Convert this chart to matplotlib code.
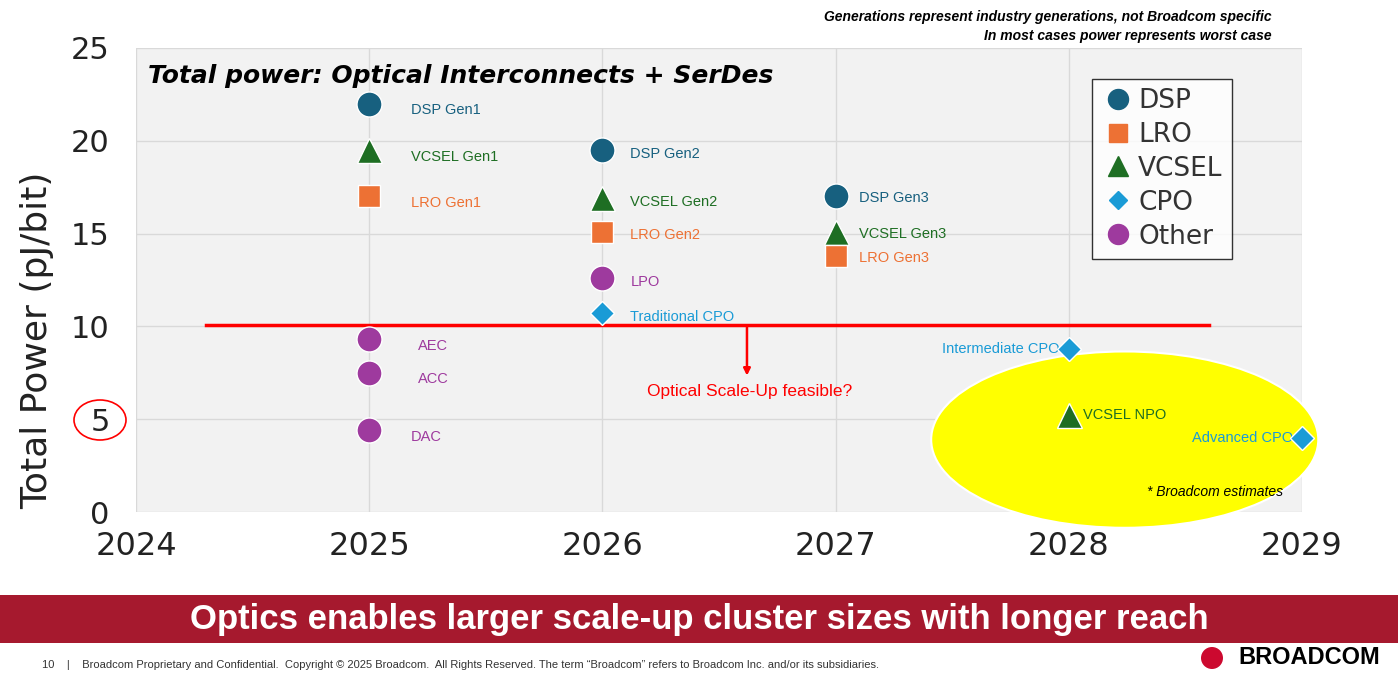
import matplotlib
matplotlib.use("Agg")
import matplotlib.pyplot as plt
from matplotlib.patches import Ellipse, Rectangle
from matplotlib.lines import Line2D

# ---- data ----
point_names = ["DSP Gen1", "VCSEL Gen1", "LRO Gen1", "AEC", "ACC", "DAC",
               "DSP Gen2", "VCSEL Gen2", "LRO Gen2", "LPO", "Traditional CPO",
               "DSP Gen3", "VCSEL Gen3", "LRO Gen3",
               "Intermediate CPO", "VCSEL NPO", "Advanced CPO"]
point_years = [2025, 2025, 2025, 2025, 2025, 2025,
               2026, 2026, 2026, 2026, 2026,
               2027, 2027, 2027,
               2028, 2028, 2029]
point_power = [22.0, 19.5, 17.0, 9.3, 7.5, 4.4,
               19.5, 16.9, 15.1, 12.6, 10.7,
               17.0, 15.1, 13.8,
               8.8, 5.2, 4.0]
point_kind = ["DSP", "VCSEL", "LRO", "Other", "Other", "Other",
              "DSP", "VCSEL", "LRO", "Other", "CPO",
              "DSP", "VCSEL", "LRO",
              "CPO", "VCSEL", "CPO"]
kinds = ["DSP", "LRO", "VCSEL", "CPO", "Other"]
threshold = 10.1

styles = {
    "DSP": ("o", "#17607f", 18),
    "LRO": ("s", "#ed7134", 16),
    "VCSEL": ("^", "#1e6e23", 18),
    "CPO": ("D", "#1a9bd6", 12),
    "Other": ("o", "#9e3a9e", 18),
}
# label offsets (layout only)
label_dx = {2025: 0.18, 2026: 0.12, 2027: 0.10}
label_dy = {2025: -0.35, 2026: -0.2, 2027: -0.1}

fig = plt.figure(figsize=(13.98, 6.77), dpi=100)
ax = fig.add_axes([0.0973, 0.2437, 0.834, 0.6854])
ax.set_facecolor("#f2f2f2")
ax.set_xlim(2024, 2029)
ax.set_ylim(0, 25)
ax.set_xticks(range(2024, 2030))
ax.set_yticks(range(0, 26, 5))
ax.grid(True, color="#d9d9d9", lw=1)
ax.set_axisbelow(True)
for s in ax.spines.values():
    s.set_visible(False)
ax.tick_params(axis="x", length=0, labelsize=23, pad=14, labelcolor="#222222")
ax.tick_params(axis="y", length=0, labelsize=22, pad=19, labelcolor="#222222")
ax.set_ylabel("Total Power (pJ/bit)", fontsize=26, color="#222222")
ax.yaxis.set_label_coords(-0.07, 0.37)

ax.add_patch(Ellipse((2028.24, 3.9), 1.66, 9.5, facecolor="#ffff00",
                     edgecolor="white", lw=1.5, zorder=1, clip_on=False))

for name, x, y, k in zip(point_names, point_years, point_power, point_kind):
    m, c, ms = styles[k]
    ax.plot(x, y, marker=m, color=c, ms=ms, mec="white", mew=1, ls="none",
            zorder=4, clip_on=False)
    if name in ("Intermediate CPO", "Advanced CPO"):
        ax.text(x - 0.04, y, name, color=c, fontsize=10.5, ha="right", va="center",
                family="Liberation Sans")
    elif name == "VCSEL NPO":
        ax.text(x + 0.06, y, name, color=c, fontsize=10.5, va="center",
                family="Liberation Sans")
    else:
        dx = label_dx[x] + (0.03 if name in ("AEC", "ACC") else 0)
        ax.text(x + dx, y + label_dy[x], name, color=c, fontsize=10.5, va="center",
                family="Liberation Sans")

ax.plot([2024.3, 2028.6], [threshold, threshold], color="red", lw=2.5, zorder=3)
ax.annotate("", xy=(2026.62, 7.2), xytext=(2026.62, threshold),
            arrowprops=dict(arrowstyle="-|>", color="red", lw=1.8, mutation_scale=10))
ax.text(2026.63, 6.5, "Optical Scale-Up feasible?", color="red", fontsize=12.5,
        ha="center", va="center", family="Liberation Sans")
ax.text(2028.92, 1.1, "* Broadcom estimates", fontsize=10, style="italic",
        ha="right", va="center", family="Liberation Sans")

ax.text(0.01, 0.965, "Total power: Optical Interconnects + SerDes", transform=ax.transAxes,
        fontsize=18, weight="bold", style="italic", va="top")

handles = [Line2D([], [], marker=styles[k][0], color=styles[k][1], ls="none",
                  ms=styles[k][2] * 0.8) for k in kinds]
leg = ax.legend(handles, kinds, loc="upper left", bbox_to_anchor=(0.82, 0.934),
                fontsize=19, frameon=True, fancybox=False, edgecolor="black",
                facecolor="white", handletextpad=0.1, labelspacing=0.3,
                borderpad=0.35, handlelength=1.3, borderaxespad=0)
leg.get_frame().set_linewidth(1)
for t in leg.get_texts():
    t.set_color("#333333")

# circled "5"
fig.patches.append(Ellipse((100 / 1398, 1 - 420 / 677), 52 / 1398, 40 / 677,
                           transform=fig.transFigure, fill=False, edgecolor="red", lw=1.2))

fig.text(1272 / 1398, 1 - 17 / 677, "Generations represent industry generations, not Broadcom specific",
         fontsize=10, style="italic", weight="bold", ha="right", va="center", family="Liberation Sans")
fig.text(1272 / 1398, 1 - 36 / 677, "In most cases power represents worst case",
         fontsize=10, style="italic", weight="bold", ha="right", va="center", family="Liberation Sans")

fig.patches.append(Rectangle((0, 1 - 643 / 677), 1, 48 / 677, transform=fig.transFigure,
                             facecolor="#a6192e", edgecolor="none"))
fig.text(0.5, 1 - 620 / 677, "Optics enables larger scale-up cluster sizes with longer reach",
         color="white", fontsize=25, weight="bold", ha="center", va="center",
         family="Liberation Sans")
fig.text(42 / 1398, 1 - 665 / 677,
         "10    |    Broadcom Proprietary and Confidential.  Copyright \u00a9 2025 Broadcom.  All Rights Reserved. "
         "The term \u201cBroadcom\u201d refers to Broadcom Inc. and/or its subsidiaries.",
         fontsize=8, color="#333333", va="center", family="Liberation Sans")
fig.text(1380 / 1398, 1 - 658 / 677, "BROADCOM", fontsize=17, weight="bold",
         ha="right", va="center", family="Liberation Sans")
fig.patches.append(Ellipse((1212 / 1398, 1 - 658 / 677), 22 / 1398, 22 / 677,
                           transform=fig.transFigure, facecolor="#cc092f", edgecolor="none"))

fig.savefig("out.png", dpi=100)
